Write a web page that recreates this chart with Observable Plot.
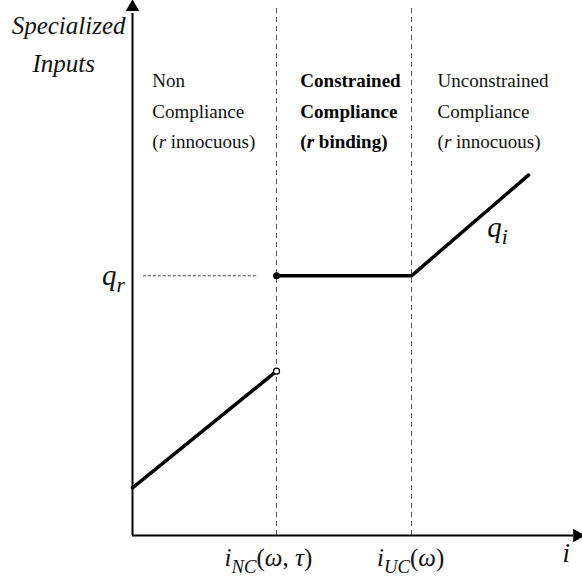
<!DOCTYPE html>
<html><head><meta charset="utf-8">
<script src="https://cdn.jsdelivr.net/npm/d3@7"></script>
<script src="https://cdn.jsdelivr.net/npm/@observablehq/plot@0.6"></script>
<style>body{margin:0;background:#fff}svg{overflow:visible}</style>
</head><body><div id="chart"></div>
<script>
// thresholds on the i axis
const thresholdNames = ["i_NC(ω, τ)", "i_UC(ω)"];
const thresholdValues = [3.2, 6.2];
const qr = 4.9;
// non-compliance segment
const ncX = [0, 3.2];
const ncY = [0.9, 3.1];
// compliance path (constrained then unconstrained)
const cX = [3.2, 6.2, 8.8];
const cY = [4.9, 4.9, 6.8];
// region labels
const regionNames = ["Non", "Compliance", "(r innocuous)", "Constrained", "Compliance ", "(r binding)", "Unconstrained", "Compliance  ", "(r innocuous) "];
const regionX = [0.44, 0.44, 0.44, 3.73, 3.73, 3.73, 6.78, 6.78, 6.78];
const regionY = [8.58, 8.0, 7.43, 8.58, 8.0, 7.43, 8.58, 8.0, 7.43];
const regionBold = [false, false, false, true, true, true, false, false, false];

const ncData = ncX.map((x, k) => ({x, y: ncY[k]}));
const cData = cX.map((x, k) => ({x, y: cY[k]}));
const regions = regionNames.map((t, k) => ({t, x: regionX[k], y: regionY[k], b: regionBold[k]}));

const font = "Liberation Serif";
const plot = Plot.plot({
  width: 582, height: 582,
  marginLeft: 132, marginRight: 0, marginTop: 5, marginBottom: 47,
  x: {domain: [0, 10], axis: null},
  y: {domain: [0, 10], axis: null},
  style: {fontFamily: font, background: "#fff", color: "#111"},
  marks: [
    Plot.ruleX(thresholdValues, {y1: 0, y2: 10, stroke: "#555", strokeWidth: 1, strokeDasharray: "5,4"}),
    Plot.ruleY([qr], {x1: 0.24, x2: 2.8, stroke: "#444", strokeWidth: 1, strokeDasharray: "3,2"}),
    Plot.ruleY([0], {x1: 0, x2: 9.8, stroke: "#000", strokeWidth: 2}),
    Plot.ruleX([0], {y1: 0, y2: 9.85, stroke: "#000", strokeWidth: 2}),
    Plot.dot([{x: 9.88, y: 0}], {x: "x", y: "y", symbol: "triangle", r: 5, fill: "#000", rotate: 90}),
    Plot.dot([{x: 0, y: 9.97}], {x: "x", y: "y", symbol: "triangle", r: 5, fill: "#000"}),
    Plot.line(ncData, {x: "x", y: "y", stroke: "#000", strokeWidth: 3.5}),
    Plot.line(cData, {x: "x", y: "y", stroke: "#000", strokeWidth: 3.5}),
    Plot.dot([ncData[1]], {x: "x", y: "y", r: 3, fill: "#fff", stroke: "#000", strokeWidth: 1.3}),
    Plot.dot([cData[0]], {x: "x", y: "y", r: 3.5, fill: "#000"}),
    Plot.text(regions.filter(d => !d.b), {x: "x", y: "y", text: "t", textAnchor: "start", fontSize: 19, fill: "#111"}),
    Plot.text(regions.filter(d => d.b), {x: "x", y: "y", text: "t", textAnchor: "start", fontSize: 19, fontWeight: "bold", fill: "#000"}),
    Plot.text(["Specialized", "Inputs"], {x: [-1.42, -1.53], y: [9.62, 8.9], text: d => d, fontSize: 25, fontStyle: "italic", fill: "#111"}),
    Plot.text(["q_r"], {x: [-0.42], y: [4.9], text: d => d, fontSize: 29, fill: "#111"}),
    Plot.text(["q_i"], {x: [8.11], y: [5.81], text: d => d, fontSize: 29, fill: "#111"}),
    Plot.text(thresholdNames, {x: [3.02, 6.18], y: [-0.42, -0.42], text: d => d, fontSize: 25, fill: "#111"}),
    Plot.text(["i"], {x: [9.64], y: [-0.34], text: d => d, fontSize: 27, fontStyle: "italic", fill: "#111"})
  ]
});
document.getElementById("chart").appendChild(plot);

// mixed-style labels: [text, italic, subscript]
const rich = {
  "(r innocuous)": [["(", 0, 0], ["r", 1, 0], [" innocuous)", 0, 0]],
  "(r innocuous) ": [["(", 0, 0], ["r", 1, 0], [" innocuous)", 0, 0]],
  "(r binding)": [["(", 0, 0], ["r", 1, 0], [" binding)", 0, 0]],
  "Compliance ": [["Compliance", 0, 0]],
  "Compliance  ": [["Compliance", 0, 0]],
  "q_r": [["q", 1, 0], ["r", 1, 1]],
  "q_i": [["q", 1, 0], ["i", 1, 1]],
  "i_NC(ω, τ)": [["i", 1, 0], ["NC", 1, 1], ["(", 0, 0], ["ω", 1, 0], [", ", 0, 0], ["τ", 1, 0], [")", 0, 0]],
  "i_UC(ω)": [["i", 1, 0], ["UC", 1, 1], ["(", 0, 0], ["ω", 1, 0], [")", 0, 0]]
};
d3.select(plot).selectAll("text").each(function() {
  const el = this;
  const key = el.textContent;
  const segs = rich[key];
  if (!segs) return;
  while (el.firstChild) el.removeChild(el.firstChild);
  const sel = d3.select(el);
  let shifted = false;
  for (const [t, it, sub] of segs) {
    const ts = sel.append("tspan").text(t);
    if (it) ts.attr("font-style", "italic");
    if (sub && !shifted) { ts.attr("dy", "7").attr("font-size", "0.75em"); shifted = true; }
    else if (sub) ts.attr("font-size", "0.75em");
    else if (!sub && shifted) { ts.attr("dy", "-7"); shifted = false; }
  }
});
</script>
</body></html>
